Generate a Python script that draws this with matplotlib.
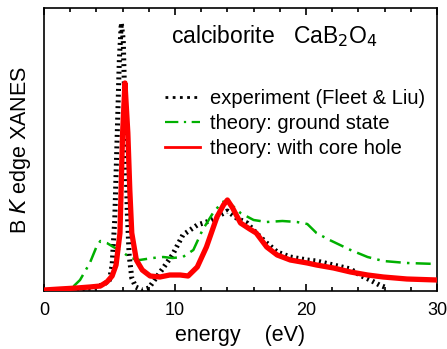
import matplotlib
matplotlib.use("Agg")
import matplotlib.pyplot as plt
from matplotlib.lines import Line2D

plt.rcParams['font.family'] = ['Liberation Sans', 'DejaVu Sans']

# ---- data (intensity in arbitrary units) ----
exp_energy = [2.5, 3.5, 4.5, 5.0, 5.2, 5.4, 5.6, 5.75, 5.9, 6.05, 6.2, 6.35, 6.5,
              6.7, 7.0, 7.5, 8.0, 8.6, 9.1, 9.8, 10.6, 11.7, 12.4, 13.2, 14.0,
              14.7, 15.5, 16.2, 17.0, 17.8, 18.8, 20.1, 20.8, 22.1, 23.4, 24.1,
              24.9, 25.6, 26.2]
exp_int = [2, 3, 6, 11, 26, 71, 161, 231, 268, 251, 171, 81, 36,
           13, 4, 1, 3, 14, 23, 36, 56, 66, 69, 74, 80,
           73, 68, 58, 48, 39, 34, 31, 30, 26, 22, 16,
           11, 6, 3]

gs_energy = [0, 1.5, 2.2, 2.75, 3.5, 4.0, 4.3, 4.8, 5.3, 6.0, 6.6, 7.3, 8.3, 9.1,
             9.8, 10.6, 11.4, 12.1, 12.9, 13.6, 14.0, 15.0, 16.0, 17.0, 18.2,
             19.3, 20.1, 20.8, 21.8, 23.4, 24.7, 25.9, 27.7, 30]
gs_int = [1, 2, 4, 11, 28, 44, 50, 48, 44, 39, 33, 31, 33, 34,
          33, 34, 41, 61, 78, 89, 90, 78, 71, 69, 70,
          69, 67, 58, 51, 41, 34, 30, 28, 27]

ch_energy = [0, 1.2, 2.5, 3.5, 4.3, 4.8, 5.2, 5.5, 5.8, 6.0, 6.18, 6.4, 6.55,
             6.7, 7.05, 7.5, 8.1, 8.85, 9.6, 10.4, 11.0, 11.7, 12.4, 12.8, 13.2,
             13.7, 14.0, 14.4, 15.0, 15.7, 16.2, 17.0, 17.8, 18.8, 20.1, 20.8,
             22.1, 23.4, 24.7, 25.9, 27.7, 30]
ch_int = [1, 2, 3, 4, 5, 9, 15, 26, 58, 158, 208, 158, 101,
          58, 31, 21, 15, 14, 16, 16, 15, 24, 44, 59, 74,
          86, 91, 83, 68, 62, 58, 44, 36, 31, 28, 26,
          23, 19, 16, 14, 12, 11]

labels = ["experiment (Fleet & Liu)", "theory: ground state", "theory: with core hole"]
xticks = [0, 10, 20, 30]

fig = plt.figure(figsize=(4.47, 3.49), dpi=100)
ax = fig.add_axes([44/447, 1-291/349, (437-44)/447, (291-8)/349])

red = '#ff0000'
green = '#00b000'

ax.plot(exp_energy, exp_int, color='black', lw=3.6,
        linestyle=(0, (0.4, 0.75)), dash_capstyle='butt', zorder=2)
ax.plot(gs_energy, gs_int, color=green, lw=1.8,
        linestyle=(0, (6, 2.5, 1, 2.5)), zorder=3)
ax.plot(ch_energy, ch_int, color=red, lw=3.8, solid_joinstyle='round', zorder=4)

ax.set_xlim(0, 30)
ax.set_ylim(0, 283)
ax.set_xticks(xticks)
ax.set_xticks([2, 4, 6, 8, 12, 14, 16, 18, 22, 24, 26, 28], minor=True)
ax.set_yticks([])
ax.tick_params(axis='x', which='both', direction='in', top=True, width=1.2,
               labelsize=13, pad=8)
ax.tick_params(axis='x', which='major', length=5)
ax.tick_params(axis='x', which='minor', length=2.6)
for s in ax.spines.values():
    s.set_linewidth(1.2)

ax.set_xlabel("energy    (eV)", fontsize=15.5, labelpad=4)
ax.set_ylabel("B $\\it{K}$ edge XANES", fontsize=15.5, labelpad=8)

ax.text(0.324, 0.875, "calciborite   CaB$_2$O$_4$", transform=ax.transAxes,
        fontsize=16.5, ha='left', va='baseline')

handles = [
    Line2D([], [], color='black', lw=2.0, linestyle=(0, (1, 1.6)), dash_capstyle='butt'),
    Line2D([], [], color=green, lw=1.6, linestyle=(0, (6, 2.5, 1, 2.5))),
    Line2D([], [], color=red, lw=2.0),
]
ax.legend(handles, labels, loc='upper left', bbox_to_anchor=(0.308, 0.715),
          frameon=False, fontsize=14.5, handlelength=1.75, handletextpad=0.5,
          labelspacing=0.3, borderaxespad=0, borderpad=0)

fig.savefig("out.png", dpi=100)
